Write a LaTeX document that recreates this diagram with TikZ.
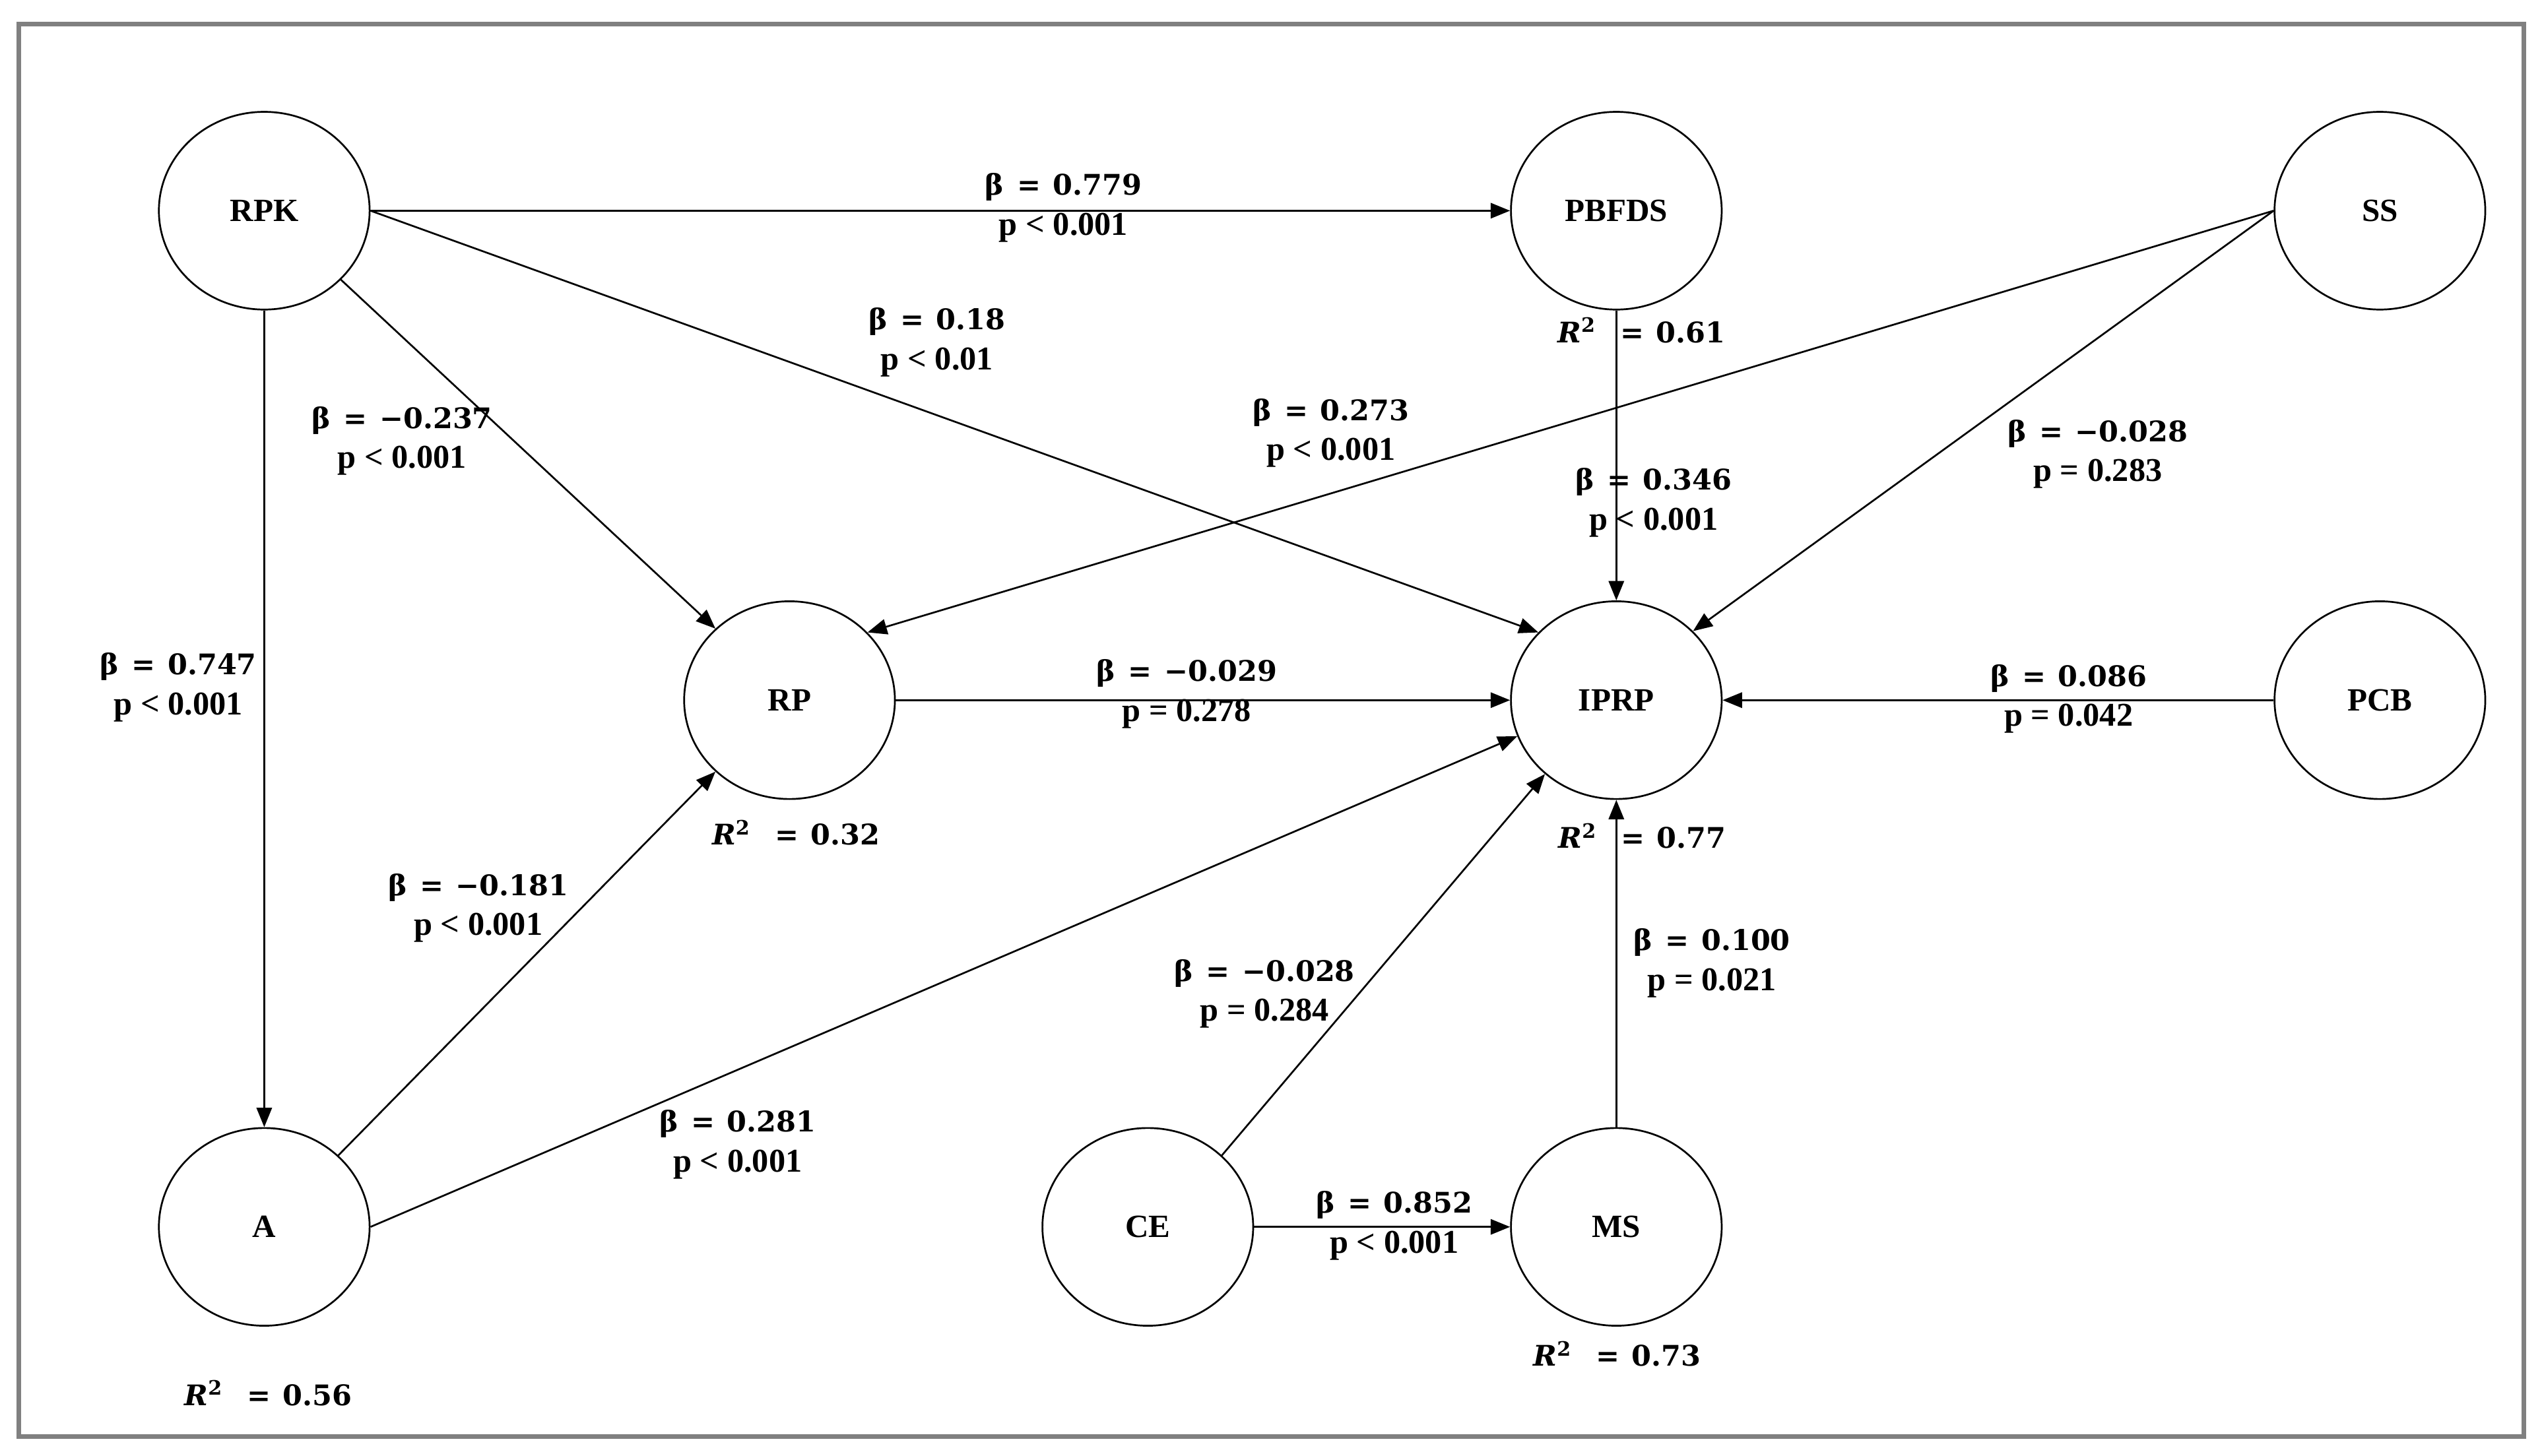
\documentclass[tikz,border=0pt]{standalone}
\usepackage{fontspec}
\setmainfont{Liberation Serif}
\newfontfamily\bfam{DejaVu Serif}
\usetikzlibrary{shapes.geometric,arrows.meta}
\definecolor{framegray}{RGB}{128,128,128}
\tikzset{
  lv/.style={ellipse,draw,line width=1.1pt,minimum width=130pt,minimum height=122pt,inner sep=0pt,
    font=\fontsize{20}{22}\selectfont\bfseries},
  blab/.style={anchor=base,inner sep=0pt,font=\bfam\bfseries\fontsize{17.5}{20}\selectfont},
  plab/.style={anchor=base,inner sep=0pt,font=\bfseries\fontsize{20.5}{22}\selectfont},
  rlab/.style={anchor=base,inner sep=0pt,font=\bfam\bfseries\fontsize{17.5}{20}\selectfont},
  conn/.style={line width=1.1pt,-{Triangle[length=12pt,width=9.5pt]}},
  frameline/.style={draw=framegray,line width=2.85pt}
}
\newcommand\elab[5]{%
  \node[blab] (#1b) at (#2,#3+6.4) {β\hspace{8pt}=\hspace{7.5pt}#4};
  \node[plab] (#1p) at (#2,#3+31) {p #5};}
\newcommand\rtwo[4]{%
  \node[rlab] (#1) at (#2,#3+6.4) {\textit{R}\textsuperscript{2}\hspace{15pt}=\hspace{7.5pt}#4};}
\begin{document}
\begin{tikzpicture}[x=1pt,y=-1pt]
\useasboundingbox (0,0) rectangle (1568,898);
\path[frameline] (11.6,14.9) rectangle (1556.6,886.2);

% latent variables
\node[lv] (RPK) at (163,130) {RPK};
\node[lv] (PBFDS) at (997,130) {PBFDS};
\node[lv] (SS) at (1468,130) {SS};
\node[lv] (RP) at (487,432) {RP};
\node[lv] (IPRP) at (997,432) {IPRP};
\node[lv] (PCB) at (1468,432) {PCB};
\node[lv] (A) at (163,757) {A};
\node[lv] (CE) at (708,757) {CE};
\node[lv] (MS) at (997,757) {MS};

% paths
\draw[conn] (RPK.east) -- (PBFDS.west);
\draw[conn] (RPK.east) -- (IPRP.139);
\draw[conn] (RPK.-42) -- (RP.136);
\draw[conn] (RPK.south) -- (A.north);
\draw[conn] (SS.west) -- (RP.41);
\draw[conn] (SS.west) -- (IPRP.42);
\draw[conn] (PBFDS.south) -- (IPRP.north);
\draw[conn] (RP.east) -- (IPRP.west);
\draw[conn] (PCB.west) -- (IPRP.east);
\draw[conn] (A.44) -- (RP.224);
\draw[conn] (A.east) -- (IPRP.200);
\draw[conn] (CE.44) -- (IPRP.226);
\draw[conn] (CE.east) -- (MS.west);
\draw[conn] (MS.north) -- (IPRP.south);

% path labels
\elab{l1}{656}{114}{0.779}{< 0.001}
\elab{l2}{578}{197}{0.18}{< 0.01}
\elab{l3}{248}{258}{−0.237}{< 0.001}
\elab{l4}{110}{410}{0.747}{< 0.001}
\elab{l5}{821}{253}{0.273}{< 0.001}
\elab{l6}{1294}{266}{−0.028}{= 0.283}
\elab{l7}{1020}{296}{0.346}{< 0.001}
\elab{l8}{732}{414}{−0.029}{= 0.278}
\elab{l9}{1276}{417}{0.086}{= 0.042}
\elab{l10}{295}{546}{−0.181}{< 0.001}
\elab{l11}{455}{692}{0.281}{< 0.001}
\elab{l12}{780}{599}{−0.028}{= 0.284}
\elab{l13}{860}{742}{0.852}{< 0.001}
\elab{l14}{1056}{580}{0.100}{= 0.021}

% R squared
\rtwo{rPBFDS}{1012.5}{205}{0.61}
\rtwo{rRP}{491}{515}{0.32}
\rtwo{rIPRP}{1013}{517}{0.77}
\rtwo{rMS}{997.5}{836.5}{0.73}
\rtwo{rA}{165.5}{860.7}{0.56}
\end{tikzpicture}
\end{document}
